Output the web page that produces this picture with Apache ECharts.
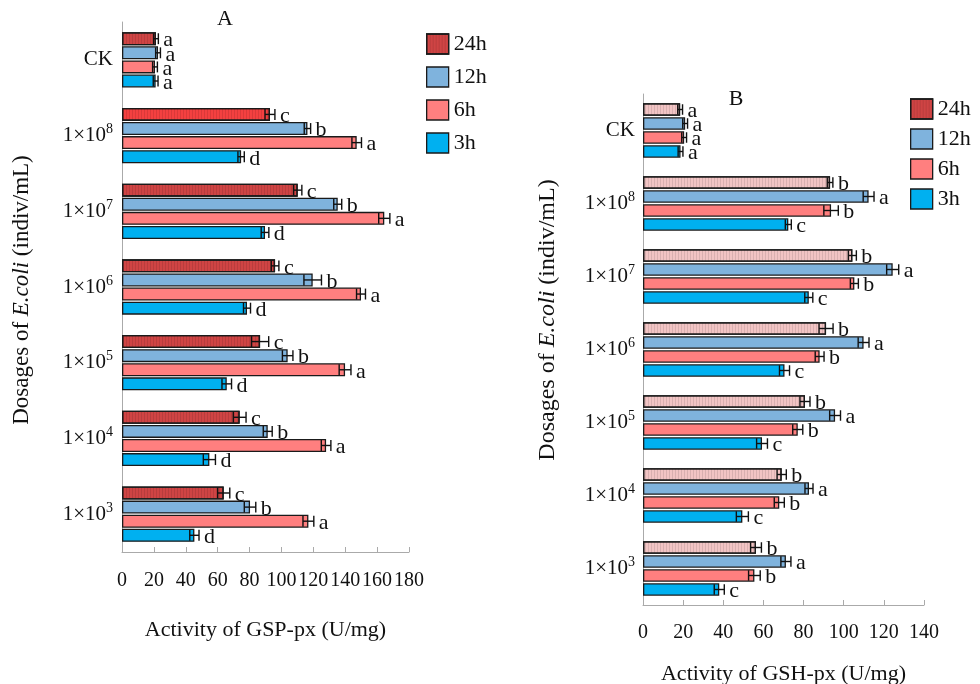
<!DOCTYPE html>
<html>
<head>
<meta charset="utf-8">
<script src="https://cdn.jsdelivr.net/npm/echarts@6/dist/echarts.min.js"></script>
<style>html,body{margin:0;padding:0;background:#fff;}#c{width:980px;height:684px;}</style>
</head>
<body>
<div id="c"></div>
<script>
// ---------- DATA ----------
const categories = ['CK', '1×10^8', '1×10^7', '1×10^6', '1×10^5', '1×10^4', '1×10^3'];
const seriesNames = ['24h', '12h', '6h', '3h'];

// Panel A: Activity of GSP-px (U/mg)
const a24 = [21.3, 92.8, 110.2, 96.0, 86.6, 73.8, 63.8];
const a12 = [22.6, 116.3, 135.3, 119.6, 103.9, 91.4, 80.3];
const a6  = [20.7, 147.2, 164.5, 149.9, 139.9, 128.0, 116.9];
const a3  = [21.1, 74.7, 89.7, 78.4, 65.7, 54.8, 45.4];
const a24Err = [1.5, 3.1, 2.6, 2.4, 5.4, 4.0, 3.8];
const a12Err = [1.5, 2.0, 2.5, 5.5, 3.3, 2.8, 3.6];
const a6Err  = [1.5, 3.0, 3.5, 2.8, 3.7, 3.0, 3.4];
const a3Err  = [1.5, 2.0, 2.4, 2.2, 3.0, 3.8, 2.9];
const a24Letters = ['a', 'c', 'c', 'c', 'c', 'c', 'c'];
const a12Letters = ['a', 'b', 'b', 'b', 'b', 'b', 'b'];
const a6Letters  = ['a', 'a', 'a', 'a', 'a', 'a', 'a'];
const a3Letters  = ['a', 'd', 'd', 'd', 'd', 'd', 'd'];

// Panel B: Activity of GSH-px (U/mg)
const b24 = [18.5, 93.2, 104.3, 91.2, 80.7, 69.1, 56.3];
const b12 = [21.0, 112.4, 124.4, 109.9, 95.7, 82.7, 71.2];
const b6  = [20.5, 93.7, 105.3, 88.0, 77.1, 67.9, 55.5];
const b3  = [18.7, 72.4, 82.6, 70.5, 59.3, 49.5, 38.0];
const b24Err = [1.2, 1.4, 2.0, 3.5, 2.5, 2.3, 2.7];
const b12Err = [1.2, 2.7, 3.0, 2.7, 2.7, 2.0, 2.5];
const b6Err  = [1.2, 3.6, 2.0, 2.2, 2.5, 2.5, 2.9];
const b3Err  = [1.2, 1.5, 2.0, 2.5, 2.7, 3.0, 2.5];
const b24Letters = ['a', 'b', 'b', 'b', 'b', 'b', 'b'];
const b12Letters = ['a', 'a', 'a', 'a', 'a', 'a', 'a'];
const b6Letters  = ['a', 'b', 'b', 'b', 'b', 'b', 'b'];
const b3Letters  = ['a', 'c', 'c', 'c', 'c', 'c', 'c'];

const xTicksA = {min: 0, max: 180, interval: 20};
const xTicksB = {min: 0, max: 140, interval: 20};

// ---------- STYLE ----------
const FONT = 'Liberation Serif';
const colors = {
  '24h': '#CF4444',
  '12h': '#7FB3DD',
  '6h': '#FF7F7F',
  '3h': '#00B0F0'
};
const colorB24 = '#F2C4C4';
const stripe = {
  symbol: 'rect', symbolSize: 1, dashArrayX: [1, 2], dashArrayY: [8, 0],
  color: 'rgba(0,0,0,0.10)', rotation: 0
};
const panels = [
  {bw: 13, gap: 1.1},
  {bw: 12.5, gap: 1.5}
];

function catLabel(v) {
  const m = v.split('^');
  return m.length > 1 ? '{b|' + m[0] + '}{s|' + m[1] + '}' : '{b|' + v + '}';
}

function barSeries(panel, name, vals, idx) {
  let color = colors[name];
  if (panel === 1 && name === '24h') color = colorB24;
  const data = vals.map((v, i) => {
    if (panel === 0 && name === '24h' && i === 1) {
      return {value: v, itemStyle: {color: '#F44040'}};
    }
    return v;
  });
  const p = panels[panel];
  return {
    type: 'bar', name: name, xAxisIndex: panel, yAxisIndex: panel,
    data: data, barWidth: p.bw, barGap: (p.gap / p.bw * 100) + '%',
    itemStyle: Object.assign({color: color, borderColor: '#1a1a1a', borderWidth: 1.3},
      name === '24h' ? {decal: stripe} : {}),
    emphasis: {disabled: true},
    z: 2
  };
}

function errSeries(panel, vals, errs, letters, idx) {
  const p = panels[panel];
  return {
    type: 'custom', xAxisIndex: panel, yAxisIndex: panel, z: 5,
    silent: true,
    data: vals.map((v, i) => [v, i, errs[i]]),
    renderItem: function (params, api) {
      const v = api.value(0), c = api.value(1), e = api.value(2);
      const center = api.coord([0, c]);
      const y = center[1] + (idx - 1.5) * (p.bw + p.gap);
      const x1 = api.coord([v - e, c])[0];
      const x2 = api.coord([v + e, c])[0];
      const h = p.bw * 0.42;
      const ls = {stroke: '#111', lineWidth: 1.4};
      return {
        type: 'group',
        children: [
          {type: 'line', shape: {x1: x1, y1: y, x2: x2, y2: y}, style: ls},
          {type: 'line', shape: {x1: x1, y1: y - h, x2: x1, y2: y + h}, style: ls},
          {type: 'line', shape: {x1: x2, y1: y - h, x2: x2, y2: y + h}, style: ls},
          {type: 'text', x: x2 + 5, y: y + 2,
            style: {text: letters[params.dataIndex], fill: '#111', fontSize: 22, fontFamily: FONT,
              align: 'left', verticalAlign: 'middle'}}
        ]
      };
    }
  };
}

const richCat = {
  b: {fontSize: 21, fontFamily: FONT, color: '#111', lineHeight: 26},
  s: {fontSize: 14, fontFamily: FONT, color: '#111', verticalAlign: 'top', lineHeight: 15}
};

function yAxis(panel, margin) {
  return {
    type: 'category', gridIndex: panel, data: categories, inverse: true,
    axisLine: {lineStyle: {color: '#aaa', width: 1}},
    axisTick: {inside: true, length: 5, lineStyle: {color: '#aaa'}},
    axisLabel: {margin: margin, formatter: catLabel, rich: richCat}
  };
}

function xAxis(panel, t, name, gap, margin, fs) {
  return {
    type: 'value', gridIndex: panel, min: t.min, max: t.max, interval: t.interval,
    name: name, nameLocation: 'middle', nameGap: gap,
    nameTextStyle: {fontSize: 22, fontFamily: FONT, color: '#111'},
    splitLine: {show: false},
    axisLine: {show: true, lineStyle: {color: '#aaa', width: 1}},
    axisTick: {show: true, inside: true, length: 5, lineStyle: {color: '#aaa'}},
    axisLabel: {fontSize: fs, fontFamily: FONT, color: '#111', margin: margin}
  };
}

const valsA = [a24, a12, a6, a3], errA = [a24Err, a12Err, a6Err, a3Err], letA = [a24Letters, a12Letters, a6Letters, a3Letters];
const valsB = [b24, b12, b6, b3], errB = [b24Err, b12Err, b6Err, b3Err], letB = [b24Letters, b12Letters, b6Letters, b3Letters];

const series = [];
seriesNames.forEach((n, i) => series.push(barSeries(0, n, valsA[i], i)));
seriesNames.forEach((n, i) => series.push(barSeries(1, n, valsB[i], i)));
seriesNames.forEach((n, i) => series.push(errSeries(0, valsA[i], errA[i], letA[i], i)));
seriesNames.forEach((n, i) => series.push(errSeries(1, valsB[i], errB[i], letB[i], i)));

const legendCommon = {
  orient: 'vertical', itemWidth: 22, itemHeight: 20, icon: 'rect',
  textStyle: {fontSize: 22, fontFamily: FONT, color: '#111'},
  selectedMode: false
};

const option = {
  backgroundColor: '#fff',
  animation: false,
  title: [
    {text: 'A', left: 220, top: 3, textAlign: 'center', textStyle: {fontSize: 22, fontWeight: 'normal', fontFamily: FONT, color: '#111'}},
    {text: 'B', left: 731, top: 83, textAlign: 'center', textStyle: {fontSize: 22, fontWeight: 'normal', fontFamily: FONT, color: '#111'}}
  ],
  legend: [
    Object.assign({}, legendCommon, {left: 421, top: 28, itemGap: 11,
      data: seriesNames.map(n => ({name: n, itemStyle: {color: colors[n], borderColor: '#1a1a1a', borderWidth: 1.3}}))}),
    Object.assign({}, legendCommon, {left: 905, top: 93, itemGap: 8,
      data: seriesNames.map(n => ({name: n, itemStyle: {color: colors[n], borderColor: '#1a1a1a', borderWidth: 1.3}}))})
  ],
  grid: [
    {left: 122, top: 22, width: 287, height: 530, outerBoundsMode: 'none', containLabel: false},
    {left: 643, top: 94, width: 281, height: 511, outerBoundsMode: 'none', containLabel: false}
  ],
  xAxis: [
    xAxis(0, xTicksA, 'Activity of GSP-px (U/mg)', 67, 19, 20),
    xAxis(1, xTicksB, 'Activity of GSH-px (U/mg)', 58, 18, 20)
  ],
  yAxis: [yAxis(0, 9), yAxis(1, 8)],
  graphic: [
    {type: 'text', x: 22, y: 290, rotation: Math.PI / 2,
      style: {text: 'Dosages of {i|E.coli} (indiv/mL)', fontSize: 23, fontFamily: FONT, fill: '#111',
        align: 'center', verticalAlign: 'middle',
        rich: {i: {fontStyle: 'italic', fontSize: 23, fontFamily: FONT, fill: '#111'}}}},
    {type: 'text', x: 548, y: 320, rotation: Math.PI / 2,
      style: {text: 'Dosages of {i|E.coli} (indiv/mL)', fontSize: 24, fontFamily: FONT, fill: '#111',
        align: 'center', verticalAlign: 'middle',
        rich: {i: {fontStyle: 'italic', fontSize: 24, fontFamily: FONT, fill: '#111'}}}}
  ],
  series: series
};

const chart = echarts.init(document.getElementById('c'), null, {renderer: 'canvas'});
chart.setOption(option);
</script>
</body>
</html>
